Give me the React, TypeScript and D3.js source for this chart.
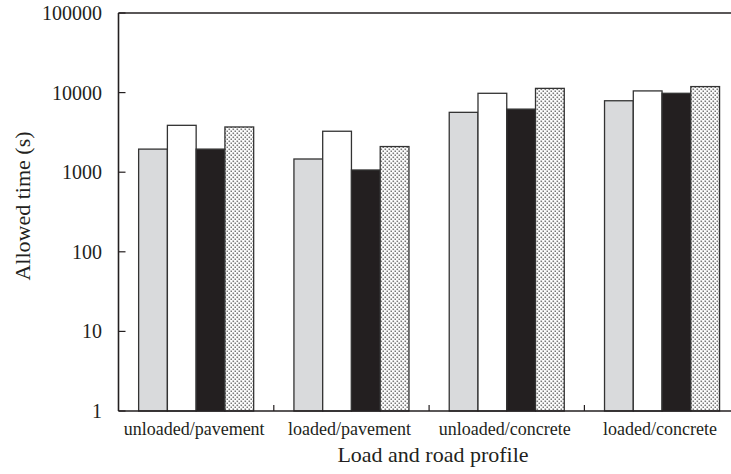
import React from "react";
import * as d3 from "d3";

const categories = ["unloaded/pavement", "loaded/pavement", "unloaded/concrete", "loaded/concrete"];
const seriesNames = ["s1", "s2", "s3", "s4"];
const s1Values = [1950, 1465, 5650, 7900];
const s2Values = [3880, 3270, 9800, 10500];
const s3Values = [1950, 1066, 6200, 9800];
const s4Values = [3700, 2100, 11300, 11900];
const yTicks = [1, 10, 100, 1000, 10000, 100000];
const yTitle = "Allowed time (s)";
const xTitle = "Load and road profile";

const seriesValues = [s1Values, s2Values, s3Values, s4Values];
const fills = ["#d9dadc", "#ffffff", "#231f20", "url(#dots)"];

export default function App() {
  const W = 731, H = 474;
  const left = 118.5, right = 739.7, top = 13, bottom = 411;
  const x = d3.scaleBand<string>().domain(categories).range([left, right]).padding(0);
  const xi = d3.scaleBand<string>().domain(seriesNames).range([0, x.bandwidth()]).paddingInner(0).paddingOuter(0.7);
  const y = d3.scaleLog().domain([1, 100000]).range([bottom, top]);
  const font = "'Liberation Serif', 'Times New Roman', serif";
  const axisColor = "#231f20";

  return (
    <div style={{ position: "absolute", left: 0, top: 0 }}>
      <svg width={W} height={H} style={{ display: "block", background: "#fff" }}>
        <defs>
          <pattern id="dots" width={4} height={4} patternUnits="userSpaceOnUse">
            <rect width={4} height={4} fill="#fff" />
            <rect x={0.5} y={0.5} width={1.6} height={1.6} fill="#7a7a7a" />
            <rect x={2.5} y={2.5} width={1.6} height={1.6} fill="#7a7a7a" />
          </pattern>
        </defs>
        {categories.map((c, ci) => (
          <g key={c}>
            {seriesNames.map((s, si) => {
              const v = seriesValues[si][ci];
              const bx = (x(c) as number) + (xi(s) as number);
              const by = y(v);
              return (
                <rect
                  key={s}
                  x={bx}
                  y={by}
                  width={xi.bandwidth()}
                  height={bottom - by}
                  fill={fills[si]}
                  stroke="#333"
                  strokeWidth={1.3}
                />
              );
            })}
          </g>
        ))}
        <line x1={left} x2={W + 20} y1={top} y2={top} stroke={axisColor} strokeWidth={1.4} />
        <line x1={left} x2={left} y1={top} y2={bottom} stroke={axisColor} strokeWidth={1.6} />
        <line x1={left} x2={W + 20} y1={bottom} y2={bottom} stroke={axisColor} strokeWidth={1.6} />
        {yTicks.map((t) => (
          <g key={t}>
            <line x1={left} x2={left + 7} y1={y(t)} y2={y(t)} stroke={axisColor} strokeWidth={1.2} />
            <text x={102} y={y(t) + 7} textAnchor="end" fontFamily={font} fontSize={20} fill="#231f20">
              {t}
            </text>
          </g>
        ))}
        {categories.slice(1).map((c) => (
          <line key={c} x1={x(c) as number} x2={x(c) as number} y1={bottom} y2={bottom - 6} stroke={axisColor} strokeWidth={1.2} />
        ))}
        {categories.map((c) => (
          <text key={c} x={(x(c) as number) + x.bandwidth() / 2 - 2} y={435} textAnchor="middle" fontFamily={font} fontSize={18} fill="#231f20">
            {c}
          </text>
        ))}
        <text x={433} y={462} textAnchor="middle" fontFamily={font} fontSize={22} fill="#231f20">
          {xTitle}
        </text>
        <text transform={`translate(30,206) rotate(-90)`} textAnchor="middle" fontFamily={font} fontSize={22} fill="#231f20">
          {yTitle}
        </text>
      </svg>
    </div>
  );
}
